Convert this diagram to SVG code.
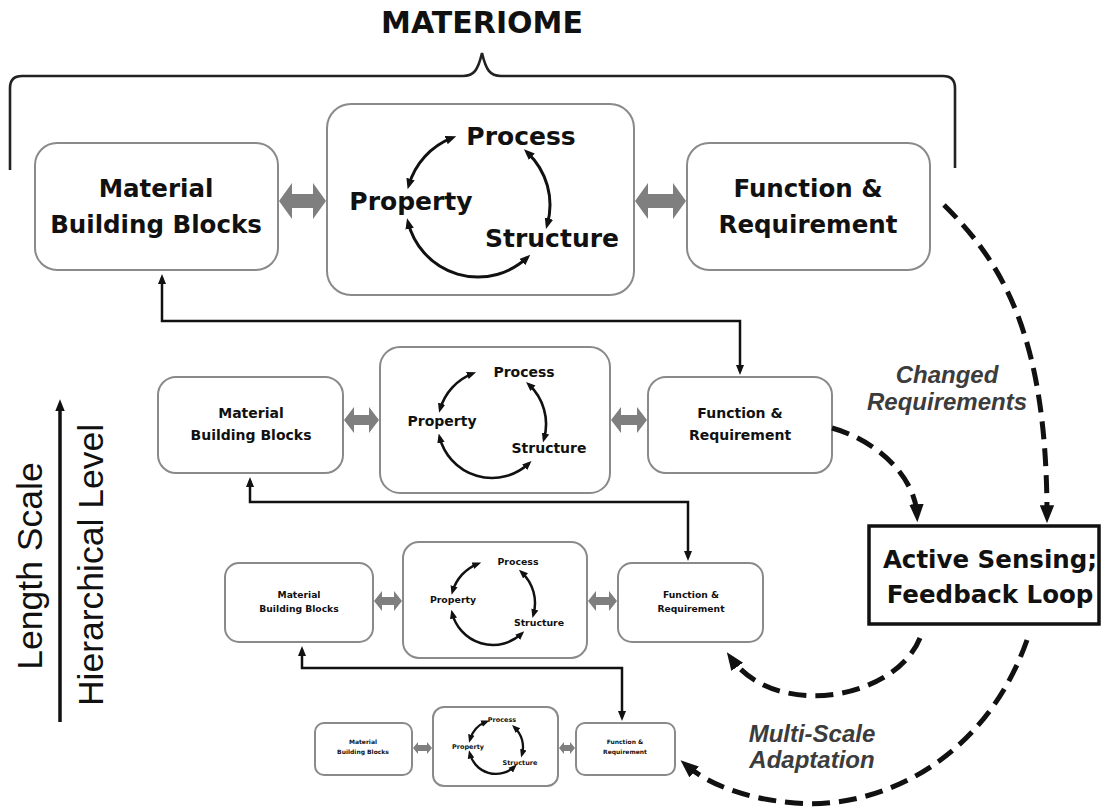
<svg xmlns="http://www.w3.org/2000/svg" width="1105" height="809" viewBox="0 0 1105 809">
  <style>
    .box { fill: #fff; stroke: #8a8a8a; stroke-width: 2; }
    .lbl { font-family: "DejaVu Sans", "Liberation Sans", sans-serif; font-weight: bold; fill: #111; text-anchor: middle; }
    .cyc { fill: none; stroke: #111; marker-start: url(#cyc-head); marker-end: url(#cyc-head); }
    .dbl { fill: #7f7f7f; }
    .link { fill: none; stroke: #111; stroke-width: 2.5; marker-start: url(#link-head); marker-end: url(#link-head); }
    .dash { fill: none; stroke: #111; stroke-width: 5; stroke-dasharray: 18 9; marker-end: url(#dash-head); }
    .note { font-family: "Liberation Sans", Arial, sans-serif; font-weight: bold; font-style: italic; font-size: 24px; fill: #3c3c3c; text-anchor: middle; }
    .axis { font-family: "Liberation Sans", Arial, sans-serif; font-size: 35.5px; fill: #111; text-anchor: middle; }
  </style>
  <defs>
    <marker id="cyc-head" viewBox="0 0 10 10" refX="6" refY="5" markerWidth="3.6" markerHeight="3.6" orient="auto-start-reverse">
      <path d="M0,1 L10,5 L0,9 z" fill="#111"/>
    </marker>
    <marker id="link-head" viewBox="0 0 10 10" refX="6" refY="5" markerWidth="4" markerHeight="4" orient="auto-start-reverse">
      <path d="M0,1 L10,5 L0,9 z" fill="#111"/>
    </marker>
    <marker id="dash-head" viewBox="0 0 10 10" refX="6" refY="5" markerUnits="userSpaceOnUse" markerWidth="18" markerHeight="18" orient="auto">
      <path d="M0,1 L10,5 L0,9 z" fill="#111"/>
    </marker>
    <marker id="axis-head" viewBox="0 0 10 10" refX="6" refY="5" markerWidth="3.4" markerHeight="3.4" orient="auto">
      <path d="M0,1 L10,5 L0,9 z" fill="#111"/>
    </marker>
  </defs>

  <rect width="1105" height="809" fill="#fff"/>

  <!-- title and brace -->
  <g id="materiome">
    <text class="lbl" x="482" y="33" font-size="30">MATERIOME</text>
    <path d="M10 170 V88 Q10 76 22 76 H463 C474 76 478 70 482 53 C486 70 490 76 501 76 H943 Q955 76 955 88 V168" fill="none" stroke="#222" stroke-width="2.6"/>
  </g>

  <!-- scale axis -->
  <g id="scale-axis">
    <path d="M60 722 V404" fill="none" stroke="#111" stroke-width="3.5" marker-end="url(#axis-head)"/>
    <text class="axis" transform="translate(42,566) rotate(-90)">Length Scale</text>
    <text class="axis" transform="translate(103,565) rotate(-90)">Hierarchical Level</text>
  </g>

  <!-- level 1 (largest) -->
  <g id="l1-blocks">
    <rect class="box" x="35" y="143" width="243" height="127" rx="22"/>
    <text class="lbl" x="156" y="197" font-size="24.5">Material</text>
    <text class="lbl" x="156" y="233" font-size="24.5">Building Blocks</text>
  </g>
  <g id="l1-cycle">
    <rect class="box" x="327" y="104" width="307" height="191" rx="24"/>
    <text class="lbl" x="521" y="145" font-size="25">Process</text>
    <text class="lbl" x="411" y="210" font-size="25">Property</text>
    <text class="lbl" x="552" y="247" font-size="25">Structure</text>
    <path class="cyc" stroke-width="3" d="M408.8 185.2 A72 72 0 0 1 452.2 137.8"/>
    <path class="cyc" stroke-width="3" d="M527.1 152.3 A72 72 0 0 1 547.2 224.8"/>
    <path class="cyc" stroke-width="3" d="M527.1 257.7 A72 72 0 0 1 408.1 222.4"/>
  </g>
  <g id="l1-function">
    <rect class="box" x="687" y="143" width="243" height="127" rx="22"/>
    <text class="lbl" x="808" y="197" font-size="24.5">Function &amp;</text>
    <text class="lbl" x="808" y="233" font-size="24.5">Requirement</text>
  </g>

  <!-- level 2 -->
  <g id="l2-blocks">
    <rect class="box" x="158" y="377" width="185" height="96" rx="18"/>
    <text class="lbl" x="251" y="418" font-size="14">Material</text>
    <text class="lbl" x="251" y="440" font-size="14">Building Blocks</text>
  </g>
  <g id="l2-cycle">
    <rect class="box" x="380" y="347" width="230" height="146" rx="20"/>
    <text class="lbl" x="524" y="377" font-size="14">Process</text>
    <text class="lbl" x="442" y="426" font-size="14">Property</text>
    <text class="lbl" x="549" y="453" font-size="14">Structure</text>
    <path class="cyc" stroke-width="2.6" d="M440.1 409.1 A54 54 0 0 1 472.6 373.6"/>
    <path class="cyc" stroke-width="2.6" d="M528.8 384.5 A54 54 0 0 1 544 438.9"/>
    <path class="cyc" stroke-width="2.6" d="M528.8 463.5 A54 54 0 0 1 439.6 437.1"/>
  </g>
  <g id="l2-function">
    <rect class="box" x="648" y="377" width="184" height="96" rx="18"/>
    <text class="lbl" x="740" y="418" font-size="14">Function &amp;</text>
    <text class="lbl" x="740" y="440" font-size="14">Requirement</text>
  </g>

  <!-- level 3 -->
  <g id="l3-blocks">
    <rect class="box" x="225" y="563" width="148" height="79" rx="14" stroke-width="1.8"/>
    <text class="lbl" x="299" y="598" font-size="9.2">Material</text>
    <text class="lbl" x="299" y="612" font-size="9.2">Building Blocks</text>
  </g>
  <g id="l3-cycle">
    <rect class="box" x="403" y="542" width="184" height="116" rx="16" stroke-width="1.8"/>
    <text class="lbl" x="518" y="565" font-size="9.4">Process</text>
    <text class="lbl" x="453" y="603" font-size="9.4">Property</text>
    <text class="lbl" x="539" y="626" font-size="9.4">Structure</text>
    <path class="cyc" stroke-width="2.5" d="M452.6 591.4 A42 42 0 0 1 477.9 563.8"/>
    <path class="cyc" stroke-width="2.5" d="M521.6 572.3 A42 42 0 0 1 533.4 614.6"/>
    <path class="cyc" stroke-width="2.5" d="M521.6 633.7 A42 42 0 0 1 452.2 613.2"/>
  </g>
  <g id="l3-function">
    <rect class="box" x="618" y="563" width="145" height="79" rx="14" stroke-width="1.8"/>
    <text class="lbl" x="691" y="598" font-size="9.2">Function &amp;</text>
    <text class="lbl" x="691" y="612" font-size="9.2">Requirement</text>
  </g>

  <!-- level 4 (smallest) -->
  <g id="l4-blocks">
    <rect class="box" x="315" y="723" width="97" height="52" rx="9" stroke-width="1.6"/>
    <text class="lbl" x="363" y="744" font-size="6">Material</text>
    <text class="lbl" x="363" y="754" font-size="6">Building Blocks</text>
  </g>
  <g id="l4-cycle">
    <rect class="box" x="433" y="707" width="125" height="79" rx="11" stroke-width="1.6"/>
    <text class="lbl" x="502" y="722" font-size="6.5">Process</text>
    <text class="lbl" x="468" y="749" font-size="6.5">Property</text>
    <text class="lbl" x="520" y="765" font-size="6.5">Structure</text>
    <path class="cyc" stroke-width="2.3" d="M470 739.6 A27 27 0 0 1 486.3 721.8"/>
    <path class="cyc" stroke-width="2.3" d="M514.4 727.3 A27 27 0 0 1 522 754.4"/>
    <path class="cyc" stroke-width="2.3" d="M514.4 766.7 A27 27 0 0 1 469.8 753.5"/>
  </g>
  <g id="l4-function">
    <rect class="box" x="576" y="723" width="99" height="52" rx="9" stroke-width="1.6"/>
    <text class="lbl" x="625" y="744" font-size="6">Function &amp;</text>
    <text class="lbl" x="625" y="754" font-size="6">Requirement</text>
  </g>

  <!-- sensing block -->
  <g id="sensing">
    <rect x="869" y="526" width="230" height="98" fill="#fff" stroke="#111" stroke-width="3.5"/>
    <text class="lbl" x="990" y="568" font-size="24.5">Active Sensing;</text>
    <text class="lbl" x="990" y="603" font-size="24.5">Feedback Loop</text>
  </g>

  <!-- connectors -->
  <g id="connectors">
    <!-- grey two-way links inside each level -->
    <polygon class="dbl" points="279,201 292,183 292,194 313,194 313,183 326,201 313,219 313,208 292,208 292,219"/>
    <polygon class="dbl" points="635,201 648,183 648,194 673,194 673,183 686,201 673,219 673,208 648,208 648,219"/>
    <polygon class="dbl" points="344,420 354,407 354,415 369,415 369,407 379,420 369,433 369,425 354,425 354,433"/>
    <polygon class="dbl" points="611,420 621,407 621,415 637,415 637,407 647,420 637,433 637,425 621,425 621,433"/>
    <polygon class="dbl" points="374,601 382,591 382,597 394,597 394,591 402,601 394,611 394,605 382,605 382,611"/>
    <polygon class="dbl" points="588,601 596,591 596,597 609,597 609,591 617,601 609,611 609,605 596,605 596,611"/>
    <polygon class="dbl" points="413,748 418,742 418,745 427,745 427,742 432,748 427,754 427,751 418,751 418,754"/>
    <polygon class="dbl" points="559,748 564,742 564,745 570,745 570,742 575,748 570,754 570,751 564,751 564,754"/>

    <!-- links between levels -->
    <path class="link" d="M162 278 V321 H740 V371"/>
    <path class="link" d="M250 481 V502 H688 V557"/>
    <path class="link" d="M302 650 V668 H622 V717"/>

    <!-- feedback loops -->
    <path class="dash" d="M944 205 C1005 265 1047 340 1047 516"/>
    <path class="dash" d="M832 428 C875 440 915 475 917 515"/>
    <path class="dash" d="M920 638 C895 700 775 720 731 658"/>
    <path class="dash" d="M1027 640 C985 760 880 810 795 803 C745 799 708 784 686 765"/>

    <text class="note" x="947" y="383">Changed</text>
    <text class="note" x="947" y="410">Requirements</text>
    <text class="note" x="812" y="742">Multi-Scale</text>
    <text class="note" x="812" y="768">Adaptation</text>
  </g>
</svg>
